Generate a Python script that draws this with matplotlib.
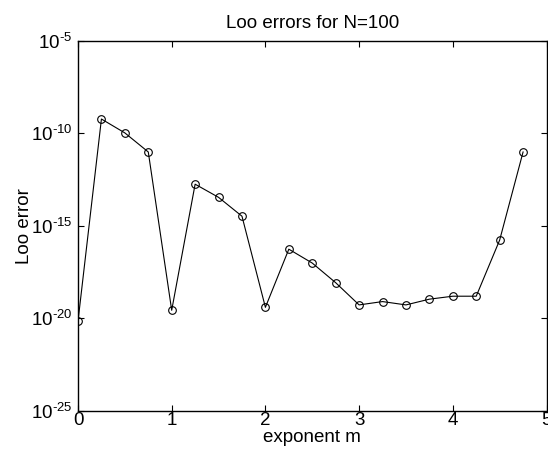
import numpy as np
import matplotlib
matplotlib.use("Agg")
import matplotlib.pyplot as plt
from matplotlib.ticker import FixedLocator, NullLocator, FuncFormatter

plt.rcParams['font.family'] = ['Liberation Sans', 'DejaVu Sans']
plt.rcParams['mathtext.fontset'] = 'custom'
plt.rcParams['mathtext.rm'] = 'Liberation Sans'
plt.rcParams['mathtext.it'] = 'Liberation Sans'

# exponent m and log10 of the Loo error
exponent_m = [0, 0.25, 0.5, 0.75, 1, 1.25, 1.5, 1.75, 2, 2.25, 2.5,
              2.75, 3, 3.25, 3.5, 3.75, 4, 4.25, 4.5, 4.75]
log_error = [-20.15, -9.23, -9.98, -11.01, -19.56, -12.75, -13.46, -14.48,
             -19.4, -16.26, -17.01, -18.07, -19.27, -19.09, -19.27, -18.96,
             -18.8, -18.8, -15.77, -11.01]
loo_error = [10.0 ** v for v in log_error]

fig = plt.figure(figsize=(5.48, 4.55), dpi=100)
ax = fig.add_axes([78 / 548, 1 - 411 / 455, (546.5 - 78) / 548, (411 - 40.7) / 455])

ax.semilogy(exponent_m, loo_error, color='black', linewidth=0.8,
            marker='o', markersize=5.5, markerfacecolor='none',
            markeredgecolor='black', markeredgewidth=0.8)

ax.set_xlim(0, 5)
ax.set_ylim(1e-25, 1e-5)
ax.set_xticks([0, 1, 2, 3, 4, 5])
ax.yaxis.set_major_locator(FixedLocator([1e-25, 1e-20, 1e-15, 1e-10, 1e-5]))
ax.yaxis.set_minor_locator(NullLocator())
ax.yaxis.set_major_formatter(FuncFormatter(
    lambda v, pos: r'$10^{\text{-}%d}$' % abs(int(round(np.log10(v))))))

ax.tick_params(direction='in', top=True, right=True, length=4,
               width=0.8, labelsize=13.5, colors='black')
ax.tick_params(axis='y', pad=4)
ax.tick_params(axis='x', pad=1)
for side in ax.spines.values():
    side.set_linewidth(1.0)

ax.set_title('Loo errors for N=100', fontsize=13.5, pad=9)
ax.set_xlabel('exponent m', fontsize=13.5, labelpad=0)
ax.set_ylabel('Loo error', fontsize=13.5, labelpad=-1.5)

plt.savefig('out.png', dpi=100)
